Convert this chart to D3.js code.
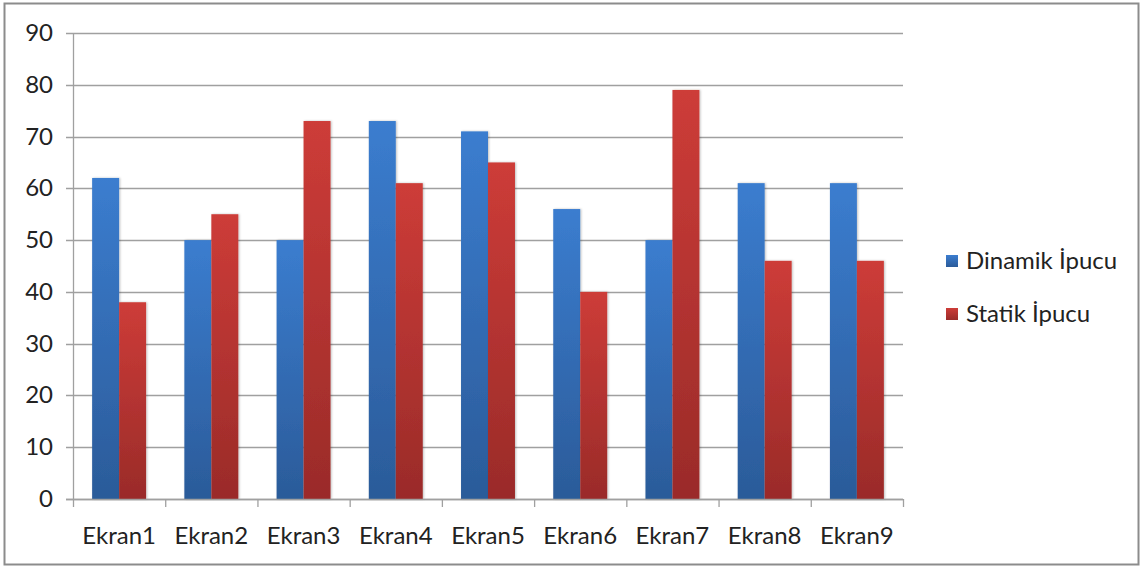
<!DOCTYPE html>
<html><head><meta charset="utf-8">
<script src="https://cdn.jsdelivr.net/npm/d3@7"></script>
<style>body{margin:0;background:#fff}svg{display:block}</style>
</head><body>
<svg id="c" width="1143" height="567"></svg>
<script>
const categories = ["Ekran1","Ekran2","Ekran3","Ekran4","Ekran5","Ekran6","Ekran7","Ekran8","Ekran9"];
const seriesNames = ["Dinamik İpucu","Statik İpucu"];
const dinamik = [62,50,50,73,71,56,50,61,61];
const statik = [38,55,73,61,65,40,79,46,46];
const yTicks = [0,10,20,30,40,50,60,70,80,90];

const svg = d3.select("#c");
const font = "Lato, 'Open Sans', sans-serif";
svg.append("rect").attr("x",4.5).attr("y",3.5).attr("width",1134).attr("height",561)
  .attr("fill","#fff").attr("stroke","#8c8c8c").attr("stroke-width",2);

const defs = svg.append("defs");
const g1 = defs.append("linearGradient").attr("id","gb").attr("x1",0).attr("y1",0).attr("x2",0).attr("y2",1);
g1.append("stop").attr("offset","0%").attr("stop-color","#3b7dcf");
g1.append("stop").attr("offset","100%").attr("stop-color","#2b5b99");
const g2 = defs.append("linearGradient").attr("id","gr").attr("x1",0).attr("y1",0).attr("x2",0).attr("y2",1);
g2.append("stop").attr("offset","0%").attr("stop-color","#cd3c38");
g2.append("stop").attr("offset","100%").attr("stop-color","#9a2b29");
const f = defs.append("filter").attr("id","sh").attr("x","-20%").attr("y","-5%").attr("width","140%").attr("height","110%");
f.append("feDropShadow").attr("dx",1).attr("dy",0).attr("stdDeviation",1.2).attr("flood-color","#000").attr("flood-opacity",0.25);

const L=73,R=903,T=33,B=499;
const x = d3.scaleBand().domain(categories).range([L,R]).paddingInner(0.415).paddingOuter(0.2075);
const xs = d3.scaleBand().domain([0,1]).range([0,x.bandwidth()]);
const y = d3.scaleLinear().domain([0,90]).range([B,T]);

svg.append("g").selectAll("line").data(yTicks).join("line")
  .attr("x1",L-7).attr("x2",R).attr("y1",d=>Math.round(y(d))+0.5).attr("y2",d=>Math.round(y(d))+0.5)
  .attr("stroke","#a0a0a0").attr("stroke-width",1.3);

svg.append("g").selectAll("text").data(yTicks).join("text")
  .attr("x",53).attr("y",d=>y(d)+8).attr("text-anchor","end")
  .attr("font-family",font).attr("font-size",24).attr("fill","#222").text(d=>d);

const data = categories.map((c,i)=>({c,v:[dinamik[i],statik[i]]}));
const grp = svg.append("g").selectAll("g").data(data).join("g").attr("transform",d=>`translate(${x(d.c)},0)`);
grp.selectAll("rect").data(d=>d.v.map((v,k)=>({v,k}))).join("rect")
  .attr("x",d=>xs(d.k)).attr("width",xs.bandwidth())
  .attr("y",d=>y(d.v)).attr("height",d=>B-y(d.v))
  .attr("fill",d=>d.k===0?"url(#gb)":"url(#gr)").attr("filter","url(#sh)");

svg.append("line").attr("x1",L+0.5).attr("x2",L+0.5).attr("y1",T).attr("y2",B).attr("stroke","#a0a0a0").attr("stroke-width",1.3);
svg.append("line").attr("x1",L-7).attr("x2",R).attr("y1",B+0.5).attr("y2",B+0.5).attr("stroke","#a0a0a0").attr("stroke-width",1.3);
const step = (R-L)/categories.length;
svg.append("g").selectAll("line").data(d3.range(categories.length+1)).join("line")
  .attr("x1",d=>L+d*step+0.5).attr("x2",d=>L+d*step+0.5).attr("y1",B).attr("y2",B+8)
  .attr("stroke","#a0a0a0").attr("stroke-width",1.3);

svg.append("g").selectAll("text").data(categories).join("text")
  .attr("x",d=>x(d)+x.bandwidth()/2).attr("y",544).attr("text-anchor","middle")
  .attr("font-family",font).attr("font-size",24).attr("fill","#222").text(d=>d);

const lg = svg.append("g").selectAll("g").data(seriesNames).join("g")
  .attr("transform",(d,i)=>`translate(946,${255+i*53})`);
lg.append("rect").attr("width",12).attr("height",12).attr("fill",(d,i)=>i===0?"url(#gb)":"url(#gr)");
lg.append("text").attr("x",20).attr("y",14).attr("font-family",font).attr("font-size",24).attr("fill","#222").text(d=>d);
</script>
</body></html>
